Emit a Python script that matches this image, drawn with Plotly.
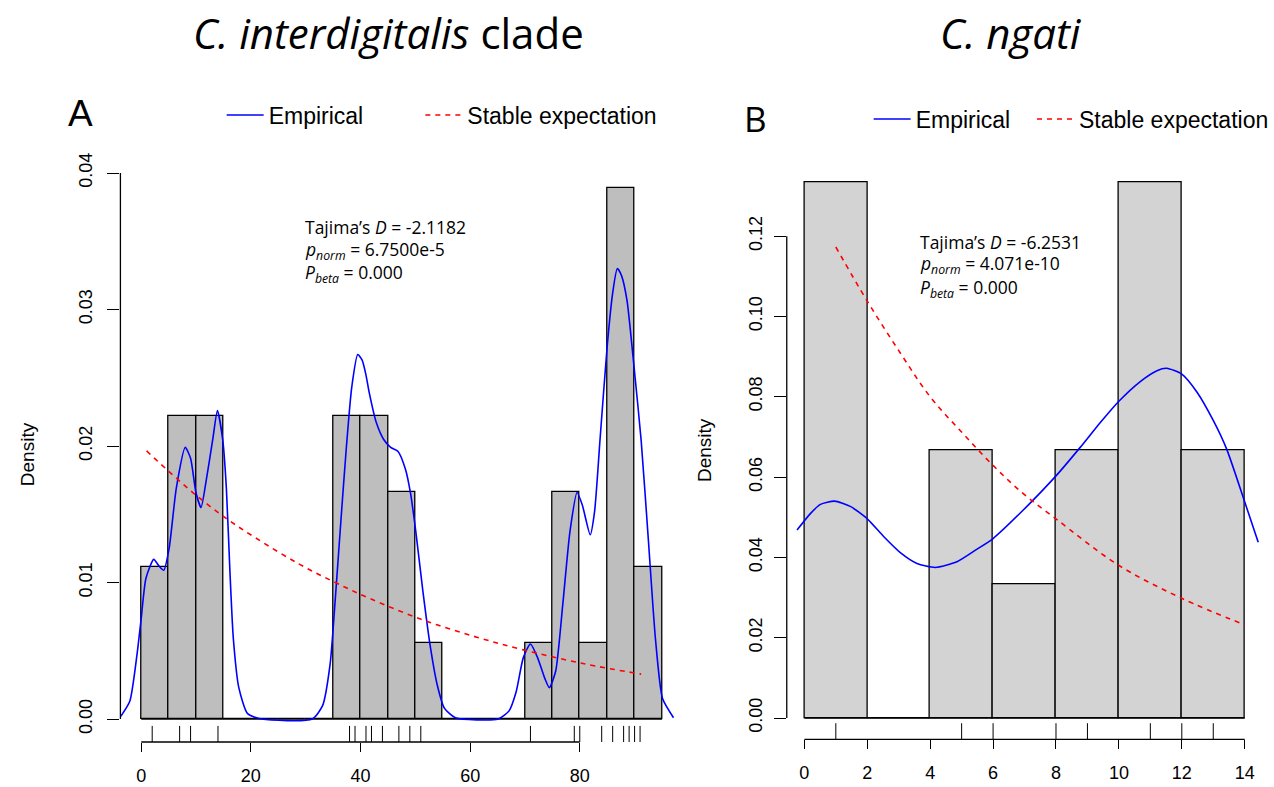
import plotly.graph_objects as go

W, H = 1274, 787


def fx(p):
    return p / W


def fy(p):
    return 1 - p / H


# ---------------- Panel A data (C. interdigitalis clade) ----------------
a_breaks = [0, 5, 10, 15, 20, 25, 30, 35, 40, 45, 50, 55, 60, 65, 70, 75, 80, 85, 90, 95]
a_counts = [2, 4, 4, 0, 0, 0, 0, 4, 4, 3, 1, 0, 0, 0, 1, 3, 1, 7, 2]
a_rug = [2, 7, 9, 14, 38, 39, 41, 42, 44, 47, 49, 51, 71, 79, 80, 84, 86, 88, 89, 90, 91]
a_emp_x = [-3.73, -2.09, -0.78, 0.0, 0.85, 2.28, 3.26, 4.11, 5.09, 6.39, 8.03, 9.0, 9.98, 10.9,
           11.9, 13.05, 13.9, 14.88, 15.53, 16.18, 16.8, 17.8, 19.4, 22.0, 31.2, 33.1, 34.45,
           35.4, 36.4, 37.4, 38.4, 39.5, 40.3, 41.0, 41.6, 42.9, 44.2, 45.5, 46.85, 48.2, 49.1,
           50.1, 51.4, 52.7, 54.0, 55.3, 57.3, 65.1, 67.1, 68.4, 69.7, 71.0, 72.3, 73.6, 74.45,
           75.6, 76.9, 78.2, 79.5, 80.45, 81.9, 82.7, 83.7, 85.0, 86.0, 86.85, 87.6, 88.6, 89.9,
           91.2, 92.5, 93.8, 95.1, 97.1]
a_emp_y = [0.0002, 0.0013, 0.0047, 0.0074, 0.0103, 0.0117, 0.0112, 0.0109, 0.0125, 0.0169, 0.0199,
           0.0191, 0.0166, 0.0155, 0.0176, 0.0205, 0.0226, 0.0204, 0.0169, 0.0108, 0.0059, 0.0023,
           0.0004, 0.0, 0.0, 0.0010, 0.0040, 0.0088, 0.0144, 0.0198, 0.0243, 0.0267, 0.0263,
           0.0252, 0.0239, 0.0217, 0.0205, 0.0199, 0.0196, 0.0183, 0.0166, 0.0137, 0.0093, 0.0054,
           0.0025, 0.0008, 0.0001, 0.0, 0.0006, 0.0020, 0.0045, 0.0055, 0.0045, 0.0030, 0.0023,
           0.0035, 0.0084, 0.0137, 0.0166, 0.0157, 0.0135, 0.0152, 0.0205, 0.0273, 0.0312, 0.0330,
           0.0325, 0.0307, 0.0258, 0.0204, 0.0132, 0.0059, 0.0015, 0.0001]
a_exp_x = [0.98, 5.7, 10.3, 15.5, 20.75, 28.6, 35.1, 41.6, 51.4, 61.2, 69.7, 80.8, 91.2]
a_exp_y = [0.01964, 0.0179, 0.0163, 0.0147, 0.0133, 0.0114, 0.01006, 0.00885, 0.00726, 0.0060,
           0.00507, 0.00405, 0.00329]
a_xticks = [0, 20, 40, 60, 80]
a_yticks = [0.00, 0.01, 0.02, 0.03, 0.04]
a_stats = ["Tajima\u2019s <i>D</i> = -2.1182",
           "<i>p</i><sub><i>norm</i></sub> = 6.7500e-5",
           "<i>P</i><sub><i>beta</i></sub> = 0.000"]

# ---------------- Panel B data (C. ngati) ----------------
b_breaks = [0, 2, 4, 6, 8, 10, 12, 14]
b_counts = [4, 0, 2, 1, 2, 4, 2]
b_rug = [1, 5, 6, 8, 9, 11, 12, 13]
b_emp_x = [-0.233, 0.19, 0.51, 0.96, 1.46, 2.0, 2.52, 3.05, 3.58, 4.16, 4.85, 5.48, 6.0, 6.96,
           8.0, 8.77, 9.41, 10.0, 10.68, 11.21, 11.52, 12.01, 12.48, 13.0, 13.43, 14.01, 14.43]
b_emp_y = [0.0468, 0.0509, 0.0532, 0.0540, 0.0527, 0.0496, 0.0452, 0.0412, 0.0385, 0.0375,
           0.0389, 0.0420, 0.0447, 0.0518, 0.0603, 0.0674, 0.0736, 0.0789, 0.0838, 0.0865,
           0.0871, 0.0856, 0.0812, 0.0741, 0.0669, 0.0536, 0.0438]
b_exp_x = [1.0, 2.0, 3.05, 4.0, 5.06, 6.0, 6.97, 8.0, 10.0, 12.0, 14.0]
b_exp_y = [0.1173, 0.1038, 0.0909, 0.0800, 0.0707, 0.0629, 0.0558, 0.0496, 0.0380, 0.0298, 0.0232]
b_xticks = [0, 2, 4, 6, 8, 10, 12, 14]
b_yticks = [0.00, 0.02, 0.04, 0.06, 0.08, 0.10, 0.12]
b_stats = ["Tajima\u2019s <i>D</i> = -6.2531",
           "<i>p</i><sub><i>norm</i></sub> = 4.071e-10",
           "<i>P</i><sub><i>beta</i></sub> = 0.000"]

titles = ["<i>C. interdigitalis</i> clade", "<i>C. ngati</i>"]
panel_letters = ["A", "B"]
legend_names = ["Empirical", "Stable expectation"]

BLUE = "#0000FF"
RED = "#FF0000"
TICKFONT = dict(family="Liberation Sans, Arial, sans-serif", size=18, color="black")
TEXTFONT = "Open Sans, Noto Sans, sans-serif"
LEGFONT = dict(family="Liberation Sans, Arial, sans-serif", size=23, color="black")

fig = go.Figure()


def hist_trace(breaks, counts, color, xa, ya):
    n = sum(counts)
    centers, widths, dens = [], [], []
    for i, c in enumerate(counts):
        w = breaks[i + 1] - breaks[i]
        centers.append((breaks[i] + breaks[i + 1]) / 2)
        widths.append(w)
        dens.append(c / (n * w))
    return go.Bar(x=centers, y=dens, width=widths, xaxis=xa, yaxis=ya,
                  marker=dict(color=color, line=dict(color="black", width=1.3)),
                  showlegend=False, hoverinfo="skip")


def rug_trace(vals, xa, ya):
    xs, ys = [], []
    for v in vals:
        xs += [v, v, None]
        ys += [0, 0.028, None]
    return go.Scatter(x=xs, y=ys, mode="lines", xaxis=xa, yaxis=ya,
                      line=dict(color="black", width=1), showlegend=False, hoverinfo="skip")


# Panel A
fig.add_trace(hist_trace(a_breaks, a_counts, "#BEBEBE", "x", "y"))
fig.add_trace(go.Scatter(x=a_emp_x, y=a_emp_y, mode="lines", name=legend_names[0],
                         line=dict(color=BLUE, width=1.6, shape="spline", smoothing=0.6),
                         xaxis="x", yaxis="y", legend="legend"))
fig.add_trace(go.Scatter(x=a_exp_x, y=a_exp_y, mode="lines", name=legend_names[1],
                         line=dict(color=RED, width=1.6, dash="5px,5px", shape="spline"),
                         xaxis="x", yaxis="y", legend="legend2"))
fig.add_trace(rug_trace(a_rug, "x", "y3"))

# Panel B
fig.add_trace(hist_trace(b_breaks, b_counts, "#D3D3D3", "x2", "y2"))
fig.add_trace(go.Scatter(x=b_emp_x, y=b_emp_y, mode="lines", name=legend_names[0],
                         line=dict(color=BLUE, width=1.6, shape="spline", smoothing=0.6),
                         xaxis="x2", yaxis="y2", legend="legend3"))
fig.add_trace(go.Scatter(x=b_exp_x, y=b_exp_y, mode="lines", name=legend_names[1],
                         line=dict(color=RED, width=1.6, dash="5px,5px", shape="spline"),
                         xaxis="x2", yaxis="y2", legend="legend4"))
fig.add_trace(rug_trace(b_rug, "x2", "y4"))

common_x = dict(showgrid=False, zeroline=False, showline=False, ticks="outside", ticklen=9,
                tickwidth=1.2, tickcolor="black", tickfont=TICKFONT, ticklabelstandoff=8,
                automargin=False, fixedrange=True)


def yax(label_standoff, title_standoff):
    return dict(showgrid=False, zeroline=False, showline=False, ticks="outside", ticklen=12,
                tickwidth=1.2, tickcolor="black", tickfont=TICKFONT, tickangle=-90,
                ticklabelstandoff=label_standoff, automargin=False, fixedrange=True,
                title=dict(text="Density", font=dict(family="Liberation Sans, Arial", size=19),
                           standoff=title_standoff))


def leg(x, y):
    return dict(orientation="h", x=fx(x), y=fy(y), xanchor="left", yanchor="middle",
                font=LEGFONT, bgcolor="rgba(0,0,0,0)", itemwidth=37,
                itemclick=False, itemdoubleclick=False)


fig.update_layout(
    width=W, height=H,
    margin=dict(l=0, r=0, t=0, b=0),
    paper_bgcolor="white", plot_bgcolor="rgba(0,0,0,0)",
    bargap=0,
    font=dict(family="Liberation Sans, Arial, sans-serif", color="black"),
    xaxis=dict(domain=[fx(120.6), fx(683.9)], range=[-3.8, 98.8], anchor="y",
               tickvals=a_xticks, ticktext=[str(t) for t in a_xticks], **common_x),
    yaxis=dict(domain=[fy(742), fy(167)], range=[-0.00168, 0.04044], anchor="x",
               tickvals=a_yticks, ticktext=["%.2f" % t for t in a_yticks], **yax(8, 36)),
    yaxis3=dict(overlaying="y", range=[0, 1], visible=False, anchor="x", fixedrange=True),
    xaxis2=dict(domain=[fx(788), fx(1264.3)], range=[-0.56, 14.56], anchor="y2",
                tickvals=b_xticks, ticktext=[str(t) for t in b_xticks], **common_x),
    yaxis2=dict(domain=[fy(739.4), fy(161.2)], range=[-0.00533, 0.13867], anchor="x2",
                tickvals=b_yticks, ticktext=["%.2f" % t for t in b_yticks], **yax(5, 28)),
    yaxis4=dict(overlaying="y2", range=[0, 1], visible=False, anchor="x2", fixedrange=True),
    legend=leg(222, 115),
    legend2=leg(421, 115),
    legend3=leg(870, 119),
    legend4=leg(1034, 119),
)

# R-style axis lines spanning only first..last tick, and histogram base line
shapes = []
for xa, ya, xt, yt, br in [("x", "y", a_xticks, a_yticks, a_breaks),
                           ("x2", "y2", b_xticks, b_yticks, b_breaks)]:
    shapes.append(dict(type="line", xref=xa, yref=ya + " domain", x0=xt[0], x1=xt[-1], y0=0, y1=0,
                       line=dict(color="black", width=1.3)))
    shapes.append(dict(type="line", xref=xa + " domain", yref=ya, x0=0, x1=0, y0=yt[0], y1=yt[-1],
                       line=dict(color="black", width=1.3)))
    shapes.append(dict(type="line", xref=xa, yref=ya, x0=br[0], x1=br[-1], y0=0, y1=0,
                       line=dict(color="black", width=1.3), layer="below"))
fig.update_layout(shapes=shapes)

ann = []
# titles
ann.append(dict(text=titles[0], x=fx(389), y=fy(33), xref="paper", yref="paper", showarrow=False,
                xanchor="center", yanchor="middle", font=dict(family=TEXTFONT, size=42)))
ann.append(dict(text=titles[1], x=fx(1013), y=fy(33), xref="paper", yref="paper", showarrow=False,
                xanchor="center", yanchor="middle", font=dict(family=TEXTFONT, size=42)))
# panel letters
ann.append(dict(text=panel_letters[0], x=fx(81), y=fy(114), xref="paper", yref="paper",
                showarrow=False, xanchor="center", yanchor="middle",
                font=dict(family="Liberation Sans, Arial", size=37)))
ann.append(dict(text=panel_letters[1], x=fx(757), y=fy(119), xref="paper", yref="paper",
                showarrow=False, xanchor="center", yanchor="middle",
                font=dict(family=TEXTFONT, size=35)))
# statistics
for lines, x0, ys in [(a_stats, 303.5, [227, 250, 273]), (b_stats, 919.5, [241.6, 264.9, 288.1])]:
    for t, yy in zip(lines, ys):
        ann.append(dict(text=t, x=fx(x0), y=fy(yy), xref="paper", yref="paper", showarrow=False,
                        xanchor="left", yanchor="middle", font=dict(family=TEXTFONT, size=17.5)))
fig.update_layout(annotations=ann)

fig.write_html("out.html", config={"displayModeBar": False},
               post_script="document.body.style.margin='0px';")
